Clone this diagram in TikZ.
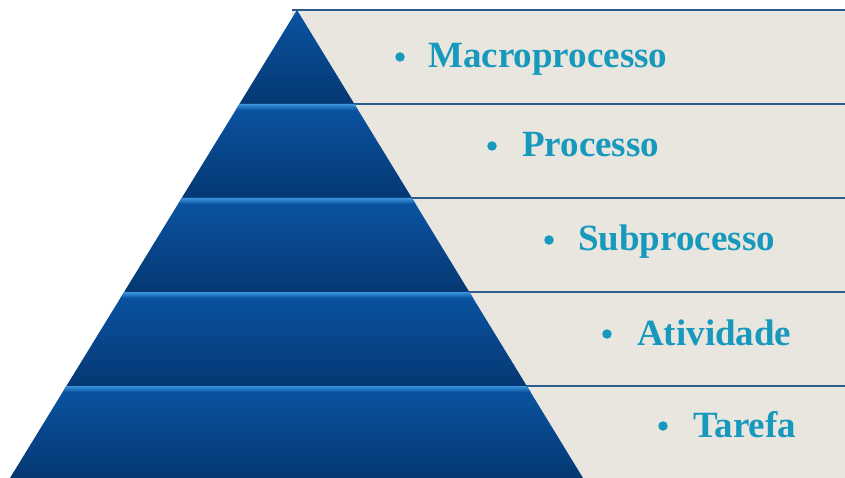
\documentclass[tikz,border=0pt]{standalone}
\usepackage{fontspec}
\setmainfont{Liberation Serif}
\definecolor{beige}{HTML}{E8E6DF}
\definecolor{lineblue}{HTML}{2C5C8E}
\definecolor{bandtop}{HTML}{0A54A2}
\definecolor{bandbot}{HTML}{053873}
\definecolor{hilite}{HTML}{3A94DE}
\definecolor{txtcyan}{HTML}{1699BD}
\begin{document}
\begin{tikzpicture}[x=1pt,y=-1pt,
  lbl/.style={anchor=base west,inner sep=0pt,font=\fontsize{37}{37}\selectfont\bfseries,text=txtcyan},
  bul/.style={circle,fill=txtcyan,inner sep=0pt,minimum size=9.5pt},
  rule/.style={lineblue,line width=1.8pt},
  band/.style={top color=bandtop,bottom color=bandbot},
  hl/.style={top color=hilite,bottom color=bandtop}]
\useasboundingbox (0,0) rectangle (845,478);
\fill[white] (0,0) rectangle (845,478);
% beige strips with top rules
\foreach \t/\b in {10/104,104/198,198/292,292/386,386/478}{
  \fill[beige] (292,\t) rectangle (845,\b);
  \draw[rule] (292,\t) -- (845,\t);
}
% pyramid bands
\foreach \t/\b/\tl/\tr/\bl/\br in {
  10/104/297/297/239.4/354.4,
  104/198/239.4/354.4/181.7/411.9,
  198/292/181.7/411.9/124.1/469.3,
  292/386/124.1/469.3/66.4/526.8,
  386/478/66.4/526.8/10/583}{
  \shade[band] (\tl,\t) -- (\tr,\t) -- (\br,\b) -- (\bl,\b) -- cycle;
}
% top highlights of lower bands
\foreach \t/\tl/\tr in {104/239.4/354.4,198/181.7/411.9,292/124.1/469.3,386/66.4/526.8}{
  \shade[hl] (\tl,\t) -- (\tr,\t) -- ({\tr+3.7},{\t+6}) -- ({\tl-3.7},{\t+6}) -- cycle;
}
% labels
\node[bul] (b1) at (400,57) {};
\node[lbl] (l1) at (428,68) {Macroprocesso};
\node[bul] (b2) at (492,146) {};
\node[lbl] (l2) at (522,157) {Processo};
\node[bul] (b3) at (549,240) {};
\node[lbl] (l3) at (578,251) {Subprocesso};
\node[bul] (b4) at (607,334) {};
\node[lbl] (l4) at (637,345) {Atividade};
\node[bul] (b5) at (663,426) {};
\node[lbl] (l5) at (693,437) {Tarefa};
\end{tikzpicture}
\end{document}
